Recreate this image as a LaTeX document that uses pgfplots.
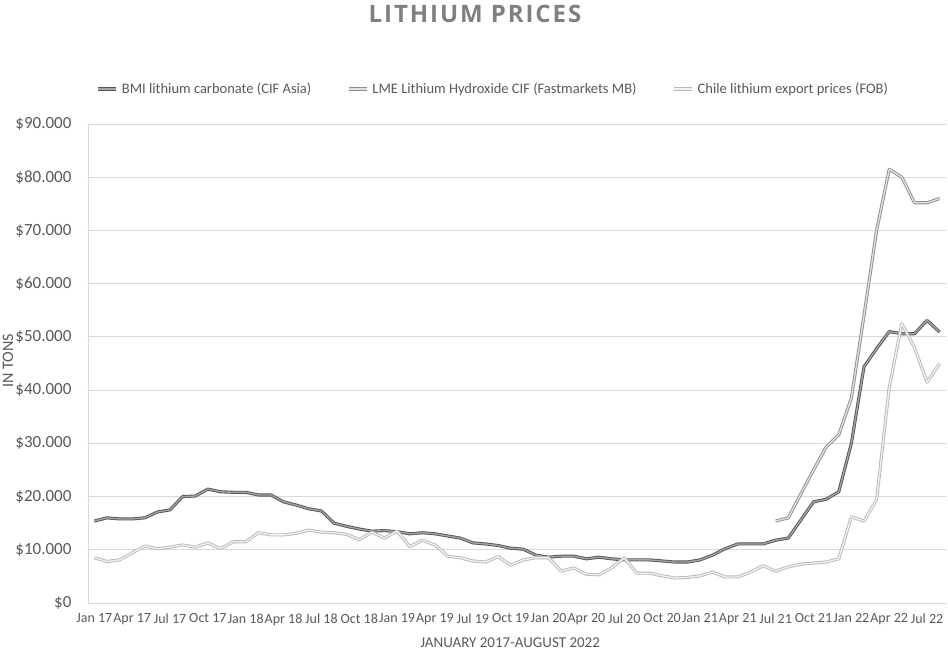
\documentclass[border=0pt]{standalone}
\usepackage{pgfplots}
\pgfplotsset{compat=1.18}
\usepackage{pgfplotstable}
\usepackage{fontspec}
\setmainfont{Carlito}
\newfontfamily\titlefont[LetterSpace=8]{Open Sans}

\definecolor{txt}{HTML}{595959}
\definecolor{ttl}{HTML}{808080}
\definecolor{gridc}{HTML}{D9D9D9}
\definecolor{bmiout}{HTML}{555555}
\definecolor{bmiin}{HTML}{A6A6A6}
\definecolor{lmeout}{HTML}{8E8E8E}
\definecolor{lmein}{HTML}{E2E2E2}
\definecolor{chiout}{HTML}{B8B8B8}
\definecolor{chiin}{HTML}{F2F2F2}

% monthly prices, thousand USD per ton, month 0 = Jan 2017
\pgfplotstableread{
m price
0 15.4
1 16.0
2 15.8
3 15.8
4 16.0
5 17.1
6 17.5
7 20.0
8 20.1
9 21.4
10 20.9
11 20.8
12 20.8
13 20.3
14 20.3
15 19.0
16 18.4
17 17.7
18 17.3
19 15.0
20 14.4
21 13.9
22 13.5
23 13.6
24 13.4
25 13.0
26 13.2
27 13.0
28 12.6
29 12.2
30 11.3
31 11.1
32 10.8
33 10.3
34 10.1
35 9.0
36 8.6
37 8.8
38 8.8
39 8.3
40 8.6
41 8.3
42 8.1
43 8.1
44 8.1
45 7.9
46 7.7
47 7.7
48 8.1
49 9.0
50 10.2
51 11.1
52 11.1
53 11.1
54 11.8
55 12.2
56 15.6
57 19.0
58 19.5
59 20.9
60 30.0
61 44.4
62 47.8
63 51.0
64 50.6
65 50.6
66 53.1
67 50.9
}\bmi

\pgfplotstableread{
m price
54 15.4
55 16.0
56 20.5
57 25.0
58 29.3
59 31.6
60 38.5
61 54.0
62 70.0
63 81.5
64 80.0
65 75.2
66 75.2
67 76.0
}\lme

\pgfplotstableread{
m price
0 8.5
1 7.8
2 8.1
3 9.4
4 10.7
5 10.2
6 10.5
7 10.9
8 10.5
9 11.3
10 10.2
11 11.5
12 11.5
13 13.2
14 12.8
15 12.8
16 13.1
17 13.7
18 13.3
19 13.2
20 12.9
21 11.9
22 13.3
23 12.2
24 13.5
25 10.6
26 11.8
27 10.9
28 8.8
29 8.5
30 7.9
31 7.7
32 8.7
33 7.1
34 8.1
35 8.5
36 8.5
37 6.0
38 6.6
39 5.4
40 5.3
41 6.6
42 8.5
43 5.6
44 5.6
45 5.1
46 4.7
47 4.8
48 5.1
49 5.8
50 4.9
51 4.9
52 5.8
53 7.0
54 6.0
55 6.8
56 7.3
57 7.5
58 7.7
59 8.3
60 16.2
61 15.4
62 19.4
63 40.5
64 52.5
65 48.0
66 41.5
67 45.0
}\chile

\begin{document}
\begin{tikzpicture}
\useasboundingbox (-88pt,-51pt) rectangle (860pt,603pt);
\begin{axis}[
    scale only axis,
    width=858pt, height=479pt,
    xmin=-0.5, xmax=67.5,
    ymin=0, ymax=90,
    xtick={0,3,...,66},
    xticklabels={Jan 17,Apr 17,Jul 17,Oct 17,Jan 18,Apr 18,Jul 18,Oct 18,Jan 19,Apr 19,Jul 19,Oct 19,Jan 20,Apr 20,Jul 20,Oct 20,Jan 21,Apr 21,Jul 21,Oct 21,Jan 22,Apr 22,Jul 22},
    ytick={0,10,...,90},
    yticklabels={\$0,\$10.000,\$20.000,\$30.000,\$40.000,\$50.000,\$60.000,\$70.000,\$80.000,\$90.000},
    major tick length=0pt,
    axis x line*=bottom, axis y line*=left,
    axis line style={draw=gridc, line width=0.8pt},
    ymajorgrids=true,
    grid style={draw=gridc, line width=0.8pt},
    xticklabel style={font=\fontsize{14}{14}\selectfont, text=txt, yshift=-7pt},
    yticklabel style={font=\fontsize{17}{17}\selectfont, text=txt, xshift=-13pt},
    xlabel={JANUARY 2017-AUGUST 2022},
    xlabel style={at={(axis description cs:0.492,0)}, anchor=center, yshift=-40pt, font=\fontsize{15}{15}\selectfont, text=txt},
    ylabel={IN TONS},
    ylabel style={at={(axis description cs:-0.0932,0.505)}, anchor=center, font=\fontsize{16}{16}\selectfont, text=txt},
    legend columns=3,
    legend style={at={(axis description cs:0.4725,1.073)}, anchor=center, draw=none, fill=none,
        font=\fontsize{14.5}{14.5}\selectfont, text=txt,
        /tikz/every odd column/.append style={column sep=2pt},
        /tikz/every even column/.append style={column sep=34pt}},
    legend image code/.code={\draw[#1] (0pt,0pt) -- (18pt,0pt);},
    every axis plot/.append style={line width=0.9pt, double distance=1.3pt, line join=round, no markers},
]
\addplot[draw=bmiout, double=bmiin] table[x=m, y=price] {\bmi};
\addlegendentry{BMI lithium carbonate (CIF Asia)}
\addplot[draw=lmeout, double=lmein] table[x=m, y=price] {\lme};
\addlegendentry{LME Lithium Hydroxide CIF (Fastmarkets MB)}
\addplot[draw=chiout, double=chiin] table[x=m, y=price] {\chile};
\addlegendentry{Chile lithium export prices (FOB)}
\end{axis}
\node[font=\titlefont\bfseries\fontsize{24}{24}\selectfont, text=ttl] at (387pt,589pt) {LITHIUM PRICES};
\end{tikzpicture}
\end{document}
